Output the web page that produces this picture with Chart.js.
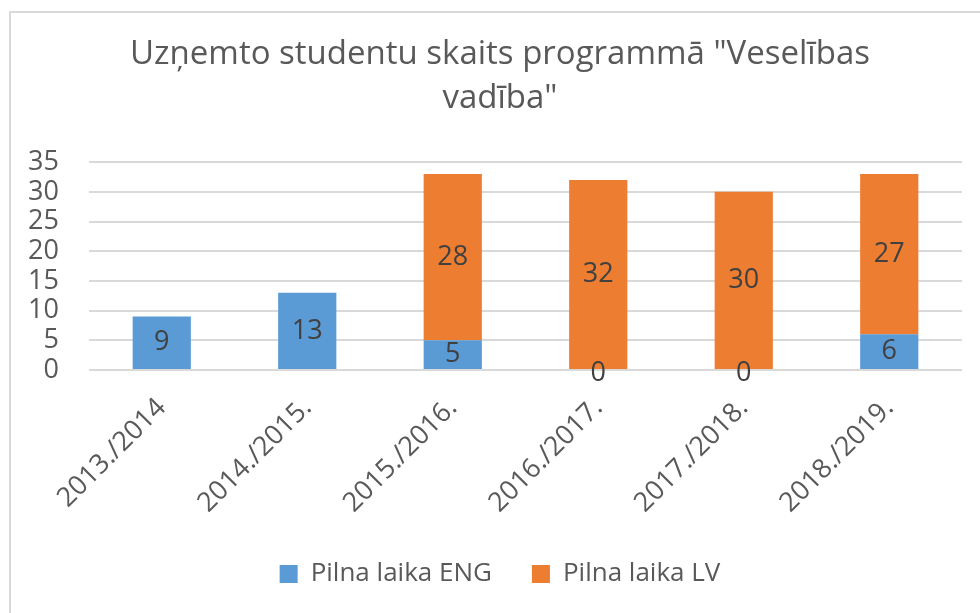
<!DOCTYPE html>
<html>
<head>
<meta charset="utf-8">
<script src="https://cdn.jsdelivr.net/npm/chart.js@4.4.1/dist/chart.umd.min.js"></script>
<style>
    html, body { margin: 0; padding: 0; background: #fff; }
    #wrap { position: relative; width: 980px; height: 613px; overflow: hidden; }
    #frame { position: absolute; left: 9px; top: 11px; width: 1000px; height: 700px; border-left: 2px solid #d9d9d9; border-top: 2px solid #d9d9d9; }
    #chart { position: absolute; left: 0; top: 0; }
</style>
</head>
<body>
<div id="wrap">
    <div id="frame"></div>
    <canvas id="chart" width="980" height="613"></canvas>
</div>
<script>
// data
var years = ['2013./2014', '2014./2015.', '2015./2016.', '2016./2017.', '2017./2018.', '2018./2019.'];
var fullTimeEng = [9, 13, 5, 0, 0, 6];
var fullTimeLv = [null, null, 28, 32, 30, 27];
var titleLines = ['Uzņemto studentu skaits programmā "Veselības', 'vadība"'];

var FONT = '"Open Sans", sans-serif';
var TEXT = '#595959';

// draws the value in the middle of each bar segment, like Excel's "center" labels
var barValues = {
    id: 'barValues',
    afterDatasetsDraw: function(chart) {
        var ctx = chart.ctx;
        ctx.save();
        ctx.font = '27px ' + FONT;
        ctx.fillStyle = '#404040';
        ctx.textAlign = 'center';
        ctx.textBaseline = 'middle';
        chart.data.datasets.forEach(function(ds, i) {
            var meta = chart.getDatasetMeta(i);
            meta.data.forEach(function(bar, j) {
                var v = ds.data[j];
                if (v === null || v === undefined) return;
                var y = (bar.y + bar.base) / 2;
                if (v === 0) y += 3;
                ctx.fillText(String(v), bar.x, y);
            });
        });
        ctx.restore();
    }
};

// Excel centres title and legend over the frame, not over the canvas: nudge them right
var shiftBlocks = {
    id: 'shiftBlocks',
    afterLayout: function(chart) {
        if (chart.titleBlock) chart.titleBlock.left += 38;
        if (chart.legend) chart.legend.left += 38;
    }
};

new Chart(document.getElementById('chart'), {
    type: 'bar',
    data: {
        labels: years,
        datasets: [
            { label: 'Pilna laika ENG', data: fullTimeEng, backgroundColor: '#5b9bd5', borderWidth: 0, barPercentage: 0.4, categoryPercentage: 1 },
            { label: 'Pilna laika LV', data: fullTimeLv, backgroundColor: '#ed7d31', borderWidth: 0, barPercentage: 0.4, categoryPercentage: 1 }
        ]
    },
    options: {
        responsive: false,
        animation: false,
        layout: { padding: { top: 0, right: 18, bottom: 16, left: 0 } },
        plugins: {
            title: {
                display: true,
                text: titleLines,
                color: TEXT,
                font: { family: FONT, size: 33, weight: 'normal', lineHeight: 1.32 },
                padding: { top: 33, bottom: 42 }
            },
            legend: {
                position: 'bottom',
                labels: { color: TEXT, font: { family: FONT, size: 26 }, boxWidth: 18, boxHeight: 18, padding: 40 }
            },
            tooltip: { enabled: false }
        },
        scales: {
            x: {
                stacked: true,
                grid: { display: false },
                border: { display: false },
                ticks: { color: TEXT, font: { family: FONT, size: 27 }, minRotation: 45, maxRotation: 45, padding: 14 },
                afterFit: function(scale) { scale.height = 151; }
            },
            y: {
                stacked: true,
                min: 0,
                max: 35,
                border: { display: false },
                grid: { color: '#d9d9d9', lineWidth: 2, drawTicks: false },
                ticks: { stepSize: 5, autoSkip: false, color: TEXT, font: { family: FONT, size: 27 }, padding: 30 },
                afterFit: function(scale) { scale.width = 89; }
            }
        }
    },
    plugins: [barValues, shiftBlocks]
});
</script>
</body>
</html>
